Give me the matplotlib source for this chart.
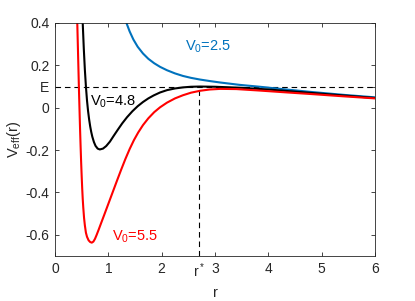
import matplotlib
matplotlib.use("Agg")
import matplotlib.pyplot as plt

# values
r_25 = [1.30, 1.34, 1.40, 1.47, 1.55, 1.65, 1.75, 1.86, 1.97, 2.10, 2.25, 2.40,
        2.55, 2.72, 2.90, 3.10, 3.46, 3.84, 4.30, 4.78, 5.40, 6.00]
v_25 = [0.432, 0.400, 0.360, 0.322, 0.288, 0.256, 0.231, 0.210, 0.193, 0.177,
        0.162, 0.150, 0.141, 0.133, 0.126, 0.119, 0.108, 0.099, 0.087, 0.075,
        0.061, 0.049]

r_48 = [0.50, 0.52, 0.54, 0.56, 0.58, 0.60, 0.62, 0.64, 0.66, 0.68, 0.70, 0.73,
        0.76, 0.80, 0.84, 0.90, 0.96, 1.03, 1.10, 1.18, 1.26, 1.35, 1.45, 1.55,
        1.65, 1.75, 1.85, 1.97, 2.10, 2.25, 2.40, 2.55, 2.72, 3.00, 3.50, 4.00,
        4.50, 5.00, 5.50, 6.00]
v_48 = [0.52, 0.40, 0.28, 0.18, 0.10, 0.035, -0.015, -0.055, -0.088, -0.115,
        -0.137, -0.162, -0.180, -0.193, -0.197, -0.193, -0.181, -0.160, -0.133,
        -0.103, -0.074, -0.045, -0.017, 0.007, 0.027, 0.044, 0.058, 0.072, 0.083,
        0.091, 0.096, 0.099, 0.100, 0.099, 0.094, 0.086, 0.076, 0.066, 0.056,
        0.046]

r_55 = [0.41, 0.418, 0.43, 0.44, 0.45, 0.46, 0.47, 0.48, 0.49, 0.50, 0.51, 0.52,
        0.53, 0.545, 0.56, 0.58, 0.60, 0.63, 0.66, 0.69, 0.72, 0.75, 0.78, 0.82,
        0.86, 0.92, 1.00, 1.08, 1.16, 1.24, 1.32, 1.40, 1.48, 1.56, 1.65, 1.75,
        1.86, 1.97, 2.10, 2.25, 2.40, 2.55, 2.72, 2.90, 3.10, 3.40, 3.84, 4.30,
        4.78, 5.40, 6.00]
v_55 = [0.48, 0.40, 0.28, 0.18, 0.08, -0.01, -0.10, -0.18, -0.255, -0.32, -0.38,
        -0.43, -0.47, -0.52, -0.555, -0.59, -0.609, -0.626, -0.634, -0.637,
        -0.632, -0.619, -0.601, -0.575, -0.548, -0.508, -0.454, -0.400, -0.346,
        -0.293, -0.242, -0.195, -0.153, -0.117, -0.082, -0.050, -0.021, 0.002,
        0.024, 0.044, 0.059, 0.071, 0.080, 0.086, 0.089, 0.088, 0.081, 0.073,
        0.065, 0.054, 0.044]

E = 0.1
r_star = 2.7

x_ticks = [0, 1, 2, r_star, 3, 4, 5, 6]
x_labels = ['0', '1', '2', 'r$^*$', '3', '4', '5', '6']
y_ticks = [-0.6, -0.4, -0.2, 0, E, 0.2, 0.4]
y_labels = ['-0.6', '-0.4', '-0.2', '0', 'E', '0.2', '0.4']

plt.rcParams['font.family'] = ['Liberation Sans', 'DejaVu Sans']
plt.rcParams['mathtext.fontset'] = 'custom'
plt.rcParams['mathtext.rm'] = 'Liberation Sans'
plt.rcParams['mathtext.it'] = 'Liberation Sans'

blue = '#0072BD'
grey = '#262626'

fig = plt.figure(figsize=(4.15, 3.01), dpi=100)
ax = fig.add_axes([0.1325, 0.1495, 0.7711, 0.7741])

ax.plot([0, 6], [E, E], color='k', lw=0.8, dashes=(5, 3.5))
ax.plot([r_star, r_star], [-0.7, E], color='k', lw=0.8, dashes=(5, 3.5))

ax.plot(r_25, v_25, color=blue, lw=1.5)
ax.plot(r_48, v_48, color='k', lw=1.5)
ax.plot(r_55, v_55, color='red', lw=1.5)

ax.text(2.43, 0.287, 'V$_0$=2.5', color=blue, fontsize=10.5, va='center')
ax.text(0.655, 0.028, 'V$_0$=4.8', color='k', fontsize=10.5, va='center')
ax.text(1.06, -0.609, 'V$_0$=5.5', color='red', fontsize=10.5, va='center')

ax.set_xlim(0, 6)
ax.set_ylim(-0.7, 0.4)
ax.set_xticks(x_ticks)
ax.set_xticklabels(x_labels)
ax.set_yticks(y_ticks)
ax.set_yticklabels(y_labels)
ax.tick_params(direction='in', top=True, right=True, length=3, width=0.6,
               labelsize=10, colors=grey, pad=4)
for s in ax.spines.values():
    s.set_color(grey)
    s.set_linewidth(0.6)

ax.set_xlabel('r', fontsize=10.5, color=grey, labelpad=4)
ax.set_ylabel('V$_{\\mathrm{eff}}$(r)', fontsize=10.5, color=grey, labelpad=2)

fig.savefig('out.png', dpi=100)
